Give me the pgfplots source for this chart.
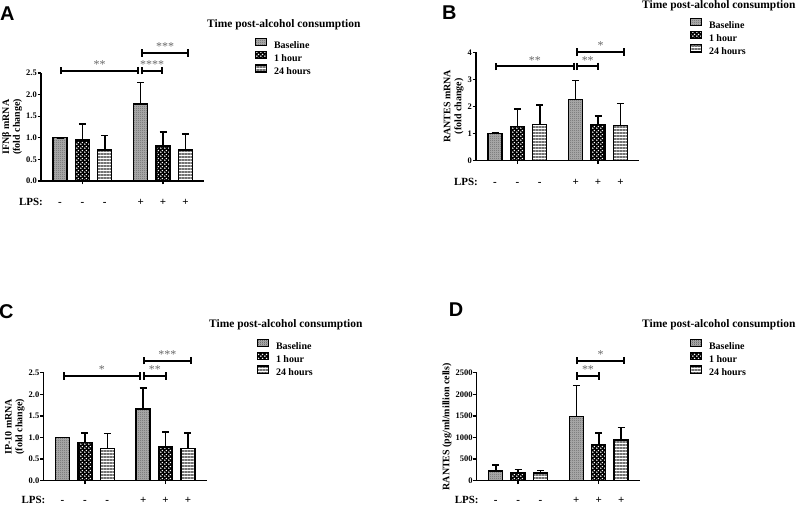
\documentclass[border=0pt]{standalone}
\usepackage{pgfplots}
\pgfplotsset{compat=1.18}
\usepackage{fontspec}
\setmainfont{Liberation Serif}
\newfontfamily\arialfont{Liberation Sans}
\usetikzlibrary{patterns,patterns.meta,arrows.meta}

\tikzdeclarepattern{
  name=smallcheck, type=uncolored,
  bounding box={(0,0) and (2bp,2bp)}, tile size={(2bp,2bp)},
  code={\fill (0,0) rectangle (1bp,1bp); \fill (1bp,1bp) rectangle (2bp,2bp);}
}
\tikzdeclarepattern{
  name=wdots, type=uncolored,
  bounding box={(0,0) and (4bp,4bp)}, tile size={(4bp,4bp)},
  code={\fill (1bp,1bp) circle (0.95bp); \fill (3bp,3bp) circle (0.95bp);}
}

\tikzset{
  sig/.style={line width=2bp, black, {Bar[width=7.5bp]}-{Bar[width=7.5bp]}},
  stars/.style={anchor=south, inner sep=1.2bp, font=\fontsize{12}{12}\selectfont, text=black!60},
  lps/.style={anchor=base, yshift=-25bp, inner sep=0pt, font=\bfseries\fontsize{11}{11}\selectfont},
  lpsl/.style={anchor=base east, yshift=-25bp, xshift=2bp, inner sep=0pt, font=\bfseries\fontsize{11}{11}\selectfont},
  ttl/.style={anchor=base west, inner sep=0pt, font=\bfseries\fontsize{11.5}{12}\selectfont},
  plet/.style={anchor=base west, inner sep=0pt, font=\arialfont\bfseries\fontsize{20}{20}\selectfont},
}
\pgfplotsset{
  basebar/.style={draw=black, line width=1.3bp, preaction={fill=black!30}, pattern=smallcheck, pattern color=black!70, bar shift=0pt},
  hourbar/.style={draw=black, line width=1.3bp, preaction={fill=black}, pattern=wdots, pattern color=white, bar shift=0pt},
  daybar/.style={draw=black, line width=1.3bp, preaction={fill=white}, pattern={Lines[distance=3bp, line width=1.2bp, angle=0]}, pattern color=black!55, bar shift=0pt},
  panel/.style={
    scale only axis, width=163bp, height=108bp, anchor=south west,
    axis x line=bottom, axis y line=left,
    axis line style={-, line width=1.4bp, black},
    xmin=-0.85, xmax=6.43, ymin=0, clip=false,
    ybar, bar width=14bp,
    xtick={1,4.6}, xticklabels={},
    tick align=outside, major tick length=3.5bp,
    every tick/.style={black, line width=1.3bp},
    tick label style={font=\bfseries\fontsize{8.5}{9}\selectfont},
    /pgf/number format/assume math mode=true,
    yticklabel style={inner sep=0.5bp},
    ylabel style={font=\bfseries\fontsize{10}{11}\selectfont, align=center},
    error bars/y dir=plus, error bars/y explicit,
    error bars/error bar style={line width=1.6bp, black, solid},
    error bars/error mark options={line width=1.6bp, black, solid, mark size=3.5bp, rotate=90},
    legend style={draw=none, fill=none, inner sep=0pt, outer sep=0pt, anchor=north west,
      font=\bfseries\fontsize{10}{11}\selectfont, row sep=1.2bp, column sep=7bp,
      nodes={inner sep=0pt, text height=7.5bp, text depth=2bp}},
    legend cell align=left,
    legend image code/.code={\draw[#1, line width=1bp] (0bp,-0.2bp) rectangle (11bp,6.8bp);},
  },
}

\begin{document}
\begin{tikzpicture}
\path[use as bounding box] (0,0) rectangle (800bp,505bp);

% ---------------- Panel A
\begin{axis}[panel, at={(41bp,324bp)}, ymax=2.5, ytick={0,0.5,...,2.5},
  yticklabel style={/pgf/number format/.cd, fixed, fixed zerofill, precision=1},
  ylabel={IFNβ mRNA\\(fold change)},
  legend style={at={(1.313,1.324)}}]
\addplot[basebar] coordinates {(0,1.0) +- (0,0) (3.6,1.785) +- (0,0.495)};
\addplot[hourbar] coordinates {(1,0.95) +- (0,0.37) (4.6,0.81) +- (0,0.33)};
\addplot[daybar] coordinates {(2,0.72) +- (0,0.33) (5.6,0.72) +- (0,0.37)};
\legend{Baseline,1 hour,24 hours}
\draw[sig] (axis cs:0,2.556) -- (axis cs:3.54,2.556) node[stars, midway] {**};
\draw[sig] (axis cs:3.61,2.556) -- (axis cs:4.62,2.556) node[stars, midway] {****};
\draw[sig] (axis cs:3.61,2.96) -- (axis cs:5.78,2.96) node[stars, midway] {***};
\node[lpsl] at (axis cs:-0.85,0) {LPS:};
\node[lps] at (axis cs:0,0) {-};
\node[lps] at (axis cs:1,0) {-};
\node[lps] at (axis cs:2,0) {-};
\node[lps] at (axis cs:3.6,0) {+};
\node[lps] at (axis cs:4.6,0) {+};
\node[lps] at (axis cs:5.6,0) {+};
\end{axis}

% ---------------- Panel B
\begin{axis}[panel, at={(476bp,344.7bp)}, ymax=4, ytick={0,1,2,3,4},
  ylabel={RANTES mRNA\\(fold change)},
  legend style={at={(1.313,1.318)}}]
\addplot[basebar] coordinates {(0,1.0) +- (0,0) (3.6,2.26) +- (0,0.69)};
\addplot[hourbar] coordinates {(1,1.24) +- (0,0.67) (4.6,1.32) +- (0,0.32)};
\addplot[daybar] coordinates {(2,1.33) +- (0,0.72) (5.6,1.28) +- (0,0.82)};
\legend{Baseline,1 hour,24 hours}
\draw[sig] (axis cs:0,3.48) -- (axis cs:3.56,3.48) node[stars, midway] {**};
\draw[sig] (axis cs:3.63,3.48) -- (axis cs:4.65,3.48) node[stars, midway] {**};
\draw[sig] (axis cs:3.63,4.02) -- (axis cs:5.8,4.02) node[stars, midway] {*};
\node[lpsl] at (axis cs:-0.85,0) {LPS:};
\node[lps] at (axis cs:0,0) {-};
\node[lps] at (axis cs:1,0) {-};
\node[lps] at (axis cs:2,0) {-};
\node[lps] at (axis cs:3.6,0) {+};
\node[lps] at (axis cs:4.6,0) {+};
\node[lps] at (axis cs:5.6,0) {+};
\end{axis}

% ---------------- Panel C
\begin{axis}[panel, at={(43.5bp,24.3bp)}, ymax=2.5, ytick={0,0.5,...,2.5},
  yticklabel style={/pgf/number format/.cd, fixed, fixed zerofill, precision=1},
  ylabel={IP-10 mRNA\\(fold change)},
  legend style={at={(1.31,1.312)}}]
\addplot[basebar] coordinates {(0,1.0) +- (0,0) (3.6,1.66) +- (0,0.48)};
\addplot[hourbar] coordinates {(1,0.885) +- (0,0.225) (4.6,0.78) +- (0,0.35)};
\addplot[daybar] coordinates {(2,0.74) +- (0,0.355) (5.6,0.75) +- (0,0.35)};
\legend{Baseline,1 hour,24 hours}
\draw[sig] (axis cs:0,2.42) -- (axis cs:3.52,2.42) node[stars, midway] {*};
\draw[sig] (axis cs:3.58,2.42) -- (axis cs:4.66,2.42) node[stars, midway] {**};
\draw[sig] (axis cs:3.58,2.78) -- (axis cs:5.78,2.78) node[stars, midway] {***};
\node[lpsl, yshift=2.5bp] at (axis cs:-0.85,0) {LPS:};
\node[lps, yshift=2.5bp] at (axis cs:0,0) {-};
\node[lps, yshift=2.5bp] at (axis cs:1,0) {-};
\node[lps, yshift=2.5bp] at (axis cs:2,0) {-};
\node[lps, yshift=2.5bp] at (axis cs:3.6,0) {+};
\node[lps, yshift=2.5bp] at (axis cs:4.6,0) {+};
\node[lps, yshift=2.5bp] at (axis cs:5.6,0) {+};
\end{axis}

% ---------------- Panel D
\begin{axis}[panel, at={(476.7bp,24.3bp)}, ymax=2500, ytick={0,500,...,2500},
  yticklabel style={/pgf/number format/.cd, fixed, set thousands separator={}},
  ylabel={RANTES (pg/ml/million cells)},
  legend style={at={(1.309,1.312)}}]
\addplot[basebar] coordinates {(0,225) +- (0,140) (3.6,1491) +- (0,714)};
\addplot[hourbar] coordinates {(1,179) +- (0,77) (4.6,846) +- (0,256)};
\addplot[daybar] coordinates {(2,179) +- (0,54) (5.6,940) +- (0,287)};
\legend{Baseline,1 hour,24 hours}
\draw[sig] (axis cs:3.6,2420) -- (axis cs:4.64,2420) node[stars, midway] {**};
\draw[sig] (axis cs:3.6,2780) -- (axis cs:5.77,2780) node[stars, midway] {*};
\node[lpsl, yshift=2.5bp] at (axis cs:-0.85,0) {LPS:};
\node[lps, yshift=2.5bp] at (axis cs:0,0) {-};
\node[lps, yshift=2.5bp] at (axis cs:1,0) {-};
\node[lps, yshift=2.5bp] at (axis cs:2,0) {-};
\node[lps, yshift=2.5bp] at (axis cs:3.6,0) {+};
\node[lps, yshift=2.5bp] at (axis cs:4.6,0) {+};
\node[lps, yshift=2.5bp] at (axis cs:5.6,0) {+};
\end{axis}

% titles and panel letters
\node[ttl] at (207bp,477.1bp) {Time post-alcohol consumption};
\node[ttl] at (642bp,496.8bp) {Time post-alcohol consumption};
\node[ttl] at (209bp,177.1bp) {Time post-alcohol consumption};
\node[ttl] at (642bp,177.1bp) {Time post-alcohol consumption};
\node[plet] at (0bp,484.3bp) {A};
\node[plet] at (442bp,485bp) {B};
\node[plet] at (-1bp,186.7bp) {C};
\node[plet] at (448.6bp,188.3bp) {D};
\end{tikzpicture}
\end{document}
